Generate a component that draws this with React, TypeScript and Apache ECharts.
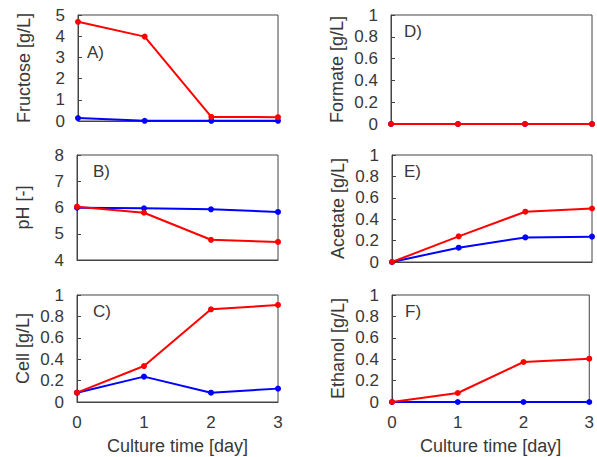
import React, { useEffect, useRef } from "react";
import * as echarts from "echarts";

const days = [0, 1, 2, 3];
const fructoseRed = [4.68, 3.98, 0.19, 0.18];
const fructoseBlue = [0.14, 0.01, 0.01, 0.01];
const phRed = [6.03, 5.8, 4.77, 4.69];
const phBlue = [5.99, 5.97, 5.93, 5.83];
const cellRed = [0.087, 0.336, 0.866, 0.907];
const cellBlue = [0.087, 0.237, 0.087, 0.125];
const formateRed = [0, 0, 0, 0];
const formateBlue = [0, 0, 0, 0];
const acetateRed = [0, 0.24, 0.47, 0.5];
const acetateBlue = [0, 0.134, 0.23, 0.237];
const ethanolRed = [0, 0.084, 0.374, 0.405];
const ethanolBlue = [0, 0, 0, 0];

const panelLetters = ["A)", "B)", "C)", "D)", "E)", "F)"];
const yTitles = ["Fructose [g/L]", "pH [-]", "Cell [g/L]", "Formate [g/L]", "Acetate [g/L]", "Ethanol [g/L]"];
const xTitle = "Culture time [day]";

const TEXT = "#383838";
const AXIS = "#444444";
const RED = "#ff0000";
const BLUE = "#0000ff";
const FONT = "Liberation Sans, Arial, sans-serif";

export default function App() {
  const ref = useRef<HTMLDivElement>(null);
  useEffect(() => {
    if (!ref.current) return;
    const chart = echarts.init(ref.current, null, { renderer: "svg" });

    const grids = [
      { left: 78, top: 15, width: 200, height: 106 },
      { left: 77, top: 155, width: 201, height: 105 },
      { left: 77, top: 295, width: 201, height: 107 },
      { left: 391, top: 15, width: 201, height: 109 },
      { left: 392, top: 155, width: 200, height: 107 },
      { left: 392, top: 295, width: 201, height: 107 },
    ];
    const yRanges = [
      { min: 0, max: 5, interval: 1 },
      { min: 4, max: 8, interval: 1 },
      { min: 0, max: 1, interval: 0.2 },
      { min: 0, max: 1, interval: 0.2 },
      { min: 0, max: 1, interval: 0.2 },
      { min: 0, max: 1, interval: 0.2 },
    ];
    const seriesData = [
      [fructoseBlue, fructoseRed],
      [phBlue, phRed],
      [cellBlue, cellRed],
      [formateBlue, formateRed],
      [acetateBlue, acetateRed],
      [ethanolBlue, ethanolRed],
    ];
    const labelPos = [
      [87, 52.5],
      [93, 171.5],
      [93, 311],
      [404, 31],
      [404, 171],
      [405, 311],
    ];
    const bottom = [false, false, true, false, false, true];

    const xAxis = grids.map((_, i) => ({
      type: "value",
      gridIndex: i,
      min: 0,
      max: 3,
      interval: 1,
      axisLine: { show: true, lineStyle: { color: AXIS, width: 1 } },
      axisTick: { show: false },
      splitLine: { show: false },
      axisLabel: {
        show: bottom[i],
        color: TEXT,
        fontSize: 17,
        fontFamily: FONT,
        margin: 12,
      },
      name: bottom[i] ? xTitle : "",
      nameLocation: "middle",
      nameGap: 35,
      nameTextStyle: { color: TEXT, fontSize: 18, fontFamily: FONT },
    }));
    const yAxis = grids.map((_, i) => ({
      type: "value",
      gridIndex: i,
      min: yRanges[i].min,
      max: yRanges[i].max,
      interval: yRanges[i].interval,
      axisLine: { show: true, lineStyle: { color: AXIS, width: 1 } },
      axisTick: { show: true, inside: true, length: 4, lineStyle: { color: AXIS } },
      splitLine: { show: false },
      axisLabel: {
        color: TEXT,
        fontSize: 17,
        fontFamily: FONT,
        margin: 13,
      },
      name: yTitles[i],
      nameLocation: "middle",
      nameGap: 45,
      nameTextStyle: { color: TEXT, fontSize: 18, fontFamily: FONT },
    }));
    const series: any[] = [];
    seriesData.forEach((pair, i) => {
      pair.forEach((vals, k) => {
        series.push({
          type: "line",
          xAxisIndex: i,
          yAxisIndex: i,
          data: days.map((d, j) => [d, vals[j]]),
          symbol: "circle",
          symbolSize: 6,
          showSymbol: true,
          lineStyle: { color: k === 0 ? BLUE : RED, width: 2 },
          itemStyle: { color: k === 0 ? BLUE : RED },
          z: k === 0 ? 2 : 3,
          silent: true,
        });
      });
    });

    chart.setOption({
      animation: false,
      textStyle: { fontFamily: FONT },
      grid: grids.map((g) => ({
        ...g,
        show: true,
        borderColor: AXIS,
        borderWidth: 1,
        backgroundColor: "transparent",
        containLabel: false,
      })),
      xAxis,
      yAxis,
      series,
      graphic: panelLetters.map((t, i) => ({
        type: "text",
        x: labelPos[i][0],
        y: labelPos[i][1],
        style: {
          text: t,
          fill: TEXT,
          font: `17px ${FONT}`,
          textAlign: "left",
          textVerticalAlign: "middle",
        },
      })),
    });
    return () => chart.dispose();
  }, []);
  return (
    <div
      ref={ref}
      style={{ position: "fixed", left: 0, top: 0, width: 597, height: 457, background: "#fff" }}
    />
  );
}
